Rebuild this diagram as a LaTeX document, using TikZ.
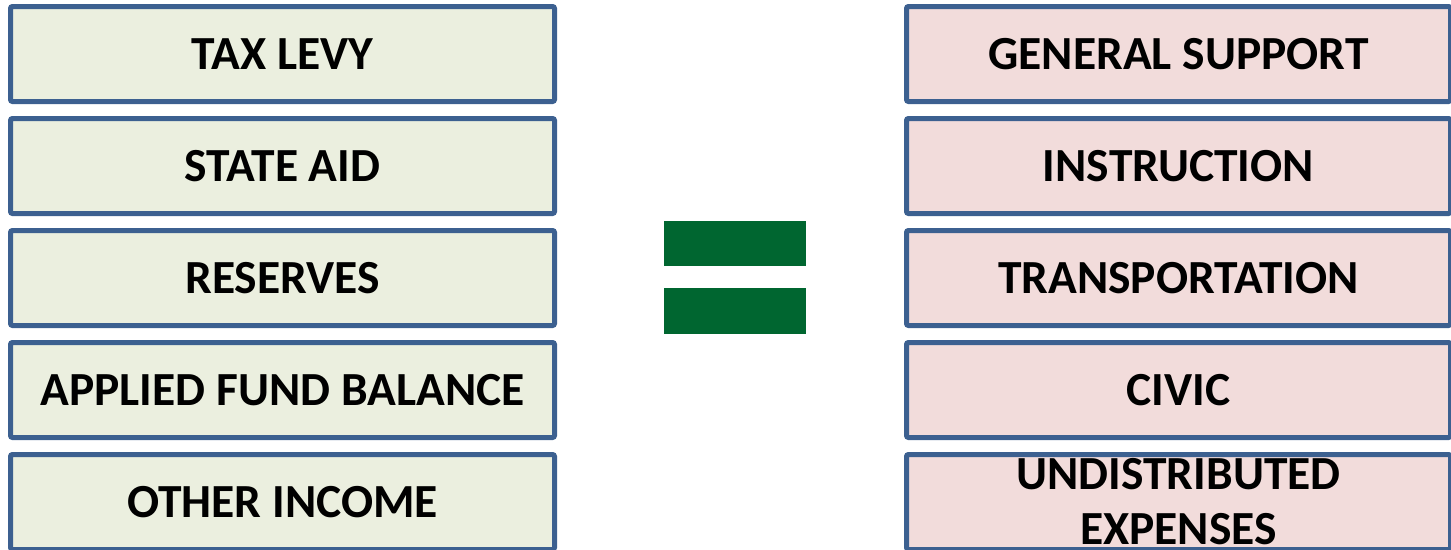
\documentclass[tikz,border=0pt]{standalone}
\usepackage{fontspec}
\setmainfont{Carlito}
\definecolor{bord}{HTML}{3C6090}
\definecolor{lfill}{HTML}{EBEFDF}
\definecolor{rfill}{HTML}{F2DCDB}
\definecolor{eqgreen}{HTML}{006630}
\tikzset{
  box/.style={draw=bord, line width=5pt, rounded corners=2pt, minimum width=544pt, minimum height=95pt, inner sep=0pt, font=\fontsize{47.5}{58}\selectfont\bfseries, align=center, anchor=north west},
  lbox/.style={box, fill=lfill},
  rbox/.style={box, fill=rfill},
  bar/.style={fill=eqgreen, draw=none}
}
\begin{document}
\begin{tikzpicture}[x=1pt,y=-1pt]
\useasboundingbox (0,0) rectangle (1451,549);
\begin{scope}
\clip (0,0) rectangle (1451,549);
\node[lbox] (l1) at (8,4) {TAX LEVY};
\node[lbox] (l2) at (8,116) {STATE AID};
\node[lbox] (l3) at (8,228) {RESERVES};
\node[lbox] (l4) at (8,340) {APPLIED FUND BALANCE};
\node[lbox] (l5) at (8,452) {OTHER INCOME};
\node[rbox] (r1) at (904,4) {GENERAL SUPPORT};
\node[rbox] (r2) at (904,116) {INSTRUCTION};
\node[rbox] (r3) at (904,228) {TRANSPORTATION};
\node[rbox] (r4) at (904,340) {CIVIC};
\node[rbox] (r5) at (904,452) {UNDISTRIBUTED\\[-3pt]EXPENSES};
\fill[bar] (664,221) rectangle (806,266);
\fill[bar] (664,288) rectangle (806,334);
\end{scope}
\end{tikzpicture}
\end{document}
